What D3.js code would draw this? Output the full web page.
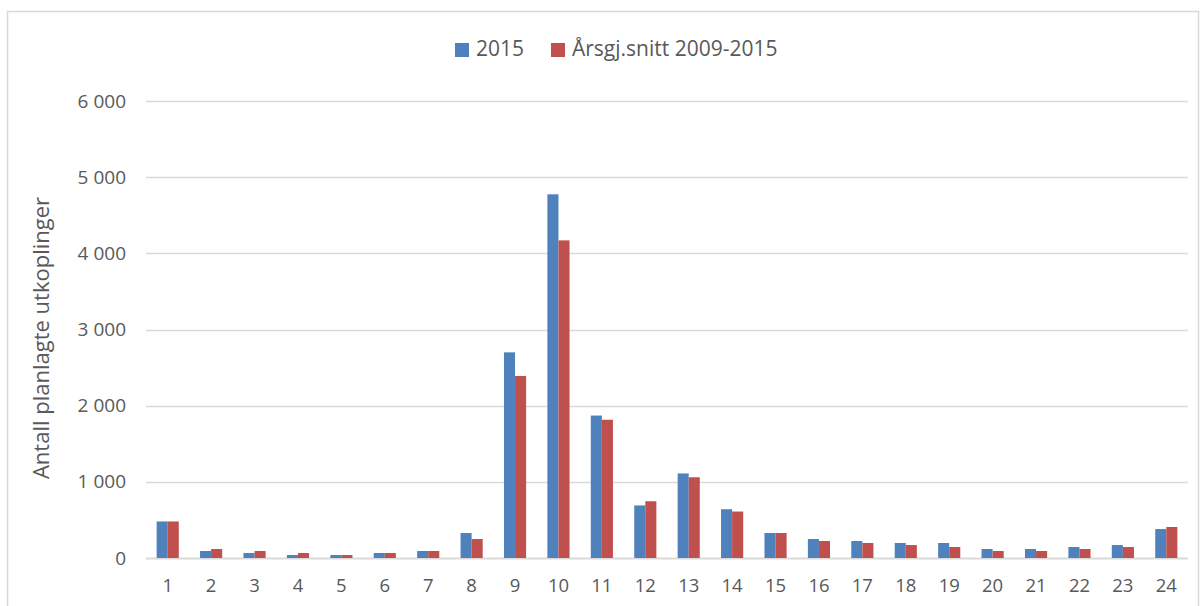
<!DOCTYPE html>
<html>
<head>
<meta charset="utf-8">
<script src="https://cdn.jsdelivr.net/npm/d3@7"></script>
<style>
  body { margin: 0; background: #fff; }
  text { font-family: "Open Sans", sans-serif; fill: #595959; }
</style>
</head>
<body>
<div id="chart"></div>
<script>
// hours 1-24
var hours = ["1","2","3","4","5","6","7","8","9","10","11","12","13","14","15","16","17","18","19","20","21","22","23","24"];
var series = ["2015", "Årsgj.snitt 2009-2015"];
var values2015 = [480, 92, 66, 39, 39, 66, 92, 328, 2700, 4775, 1870, 690, 1110, 640, 328, 249, 223, 197, 197, 118, 118, 144, 170, 380];
var valuesAvg = [480, 118, 92, 66, 39, 66, 92, 249, 2390, 4170, 1815, 745, 1060, 610, 328, 223, 197, 170, 144, 92, 92, 118, 144, 407];
var yTicks = [0, 1000, 2000, 3000, 4000, 5000, 6000];
var colors = ["#4F81BD", "#C0504D"];

var width = 1203, height = 606;
var margin = {left: 146, right: 15, top: 101, bottom: 48};

var svg = d3.select("#chart").append("svg")
	.attr("width", width)
	.attr("height", height);

// outer frame
svg.append("rect")
	.attr("x", 7.5).attr("y", 11.5)
	.attr("width", 1191).attr("height", 620)
	.attr("fill", "none")
	.attr("stroke", "#d9d9d9")
	.attr("stroke-width", 1.5);

var x = d3.scaleBand()
	.domain(hours)
	.range([margin.left, width - margin.right])
	.paddingInner(0.49)
	.paddingOuter(0.245);

var xSub = d3.scaleBand()
	.domain(series)
	.range([0, x.bandwidth()]);

var y = d3.scaleLinear()
	.domain([0, 6000])
	.range([height - margin.bottom, margin.top]);

// gridlines
svg.append("g").selectAll("line")
	.data(yTicks)
	.enter().append("line")
	.attr("x1", margin.left)
	.attr("x2", width - margin.right)
	.attr("y1", function(d) { return Math.round(y(d)) + 0.5 })
	.attr("y2", function(d) { return Math.round(y(d)) + 0.5 })
	.attr("stroke", "#d9d9d9")
	.attr("stroke-width", function(d) { return d == 0 ? 2 : 1.5 });

// y tick labels
var fmt = function(d) { return d3.format(",")(d).replace(",", " ") };
svg.append("g").selectAll("text")
	.data(yTicks)
	.enter().append("text")
	.attr("x", 126)
	.attr("y", function(d) { return y(d) })
	.attr("dy", "0.35em")
	.attr("text-anchor", "end")
	.attr("font-size", 19)
	.text(fmt);

// x tick labels
svg.append("g").selectAll("text")
	.data(hours)
	.enter().append("text")
	.attr("x", function(d) { return x(d) + x.bandwidth() / 2 })
	.attr("y", 586)
	.attr("dy", "0.35em")
	.attr("text-anchor", "middle")
	.attr("font-size", 18.5)
	.text(function(d) { return d });

// bars
var allSeries = [values2015, valuesAvg];
allSeries.forEach(function(vals, s) {
	svg.append("g").selectAll("rect")
		.data(vals)
		.enter().append("rect")
		.attr("x", function(d, i) { return x(hours[i]) + xSub(series[s]) })
		.attr("width", xSub.bandwidth())
		.attr("y", function(d) { return y(d) })
		.attr("height", function(d) { return y(0) - y(d) })
		.attr("fill", colors[s]);
});

// y axis title
svg.append("text")
	.attr("transform", "translate(41,338) rotate(-90)")
	.attr("dy", "0.35em")
	.attr("text-anchor", "middle")
	.attr("font-size", 22)
	.text("Antall planlagte utkoplinger");

// legend
var legendX = [455, 551];
series.forEach(function(name, i) {
	svg.append("rect")
		.attr("x", legendX[i]).attr("y", 43)
		.attr("width", 14).attr("height", 14)
		.attr("fill", colors[i]);
	svg.append("text")
		.attr("x", legendX[i] + 21)
		.attr("y", 49)
		.attr("dy", "0.35em")
		.attr("font-size", 21)
		.text(name);
});
</script>
</body>
</html>
